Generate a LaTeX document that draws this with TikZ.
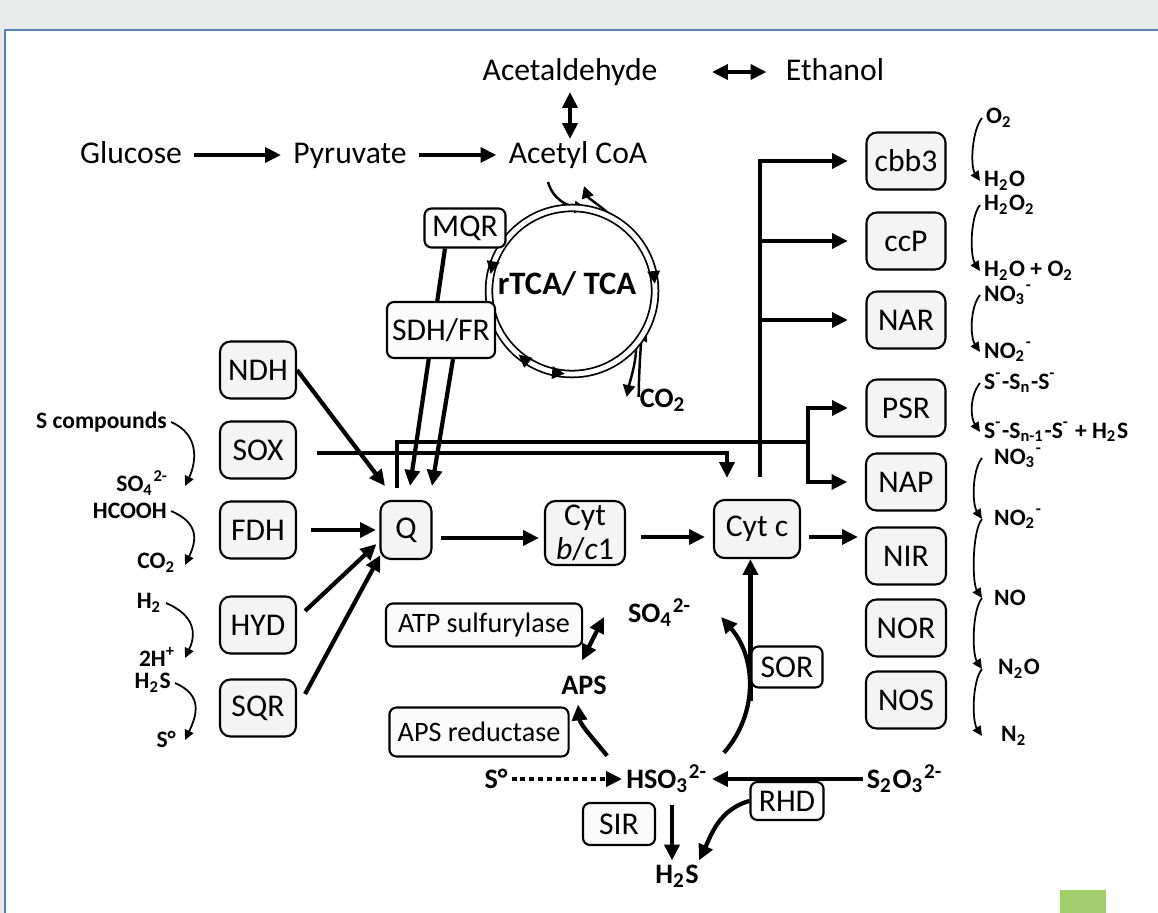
\documentclass[tikz,border=0pt]{standalone}
\usepackage{fontspec}
\setmainfont{Carlito}
\usetikzlibrary{arrows.meta,calc,positioning,decorations.markings}
\definecolor{pagegrey}{RGB}{233,235,234}
\definecolor{frameblue}{RGB}{84,130,181}
\definecolor{leafgreen}{RGB}{161,205,107}
\newcommand{\chsub}[1]{\textsubscript{#1}}
\newcommand{\chsup}[1]{\textsuperscript{#1}}
\pgfdeclarelayer{back}
\pgfdeclarelayer{links}
\pgfsetlayers{back,links,main}
\tikzset{
  pbox/.style={draw, line width=0.6pt, rounded corners=3pt, fill=gray!9,
    minimum width=0.76cm, minimum height=0.57cm, inner sep=1pt,
    font=\fontsize{9}{10.5}\selectfont},
  ebox/.style={draw, line width=0.6pt, rounded corners=2pt, fill=gray!3,
    inner sep=1pt, font=\fontsize{9}{10.5}\selectfont},
  flow/.style={line width=1.2pt, -{Triangle[length=4.5pt,width=4.2pt]}},
  bflow/.style={line width=1.2pt,
    {Triangle[length=4.5pt,width=4.2pt]}-{Triangle[length=4.5pt,width=4.2pt]}},
  bus/.style={line width=1.2pt},
  conv/.style={line width=0.5pt, -{Triangle[length=2.8pt,width=2.6pt]}},
  cyc/.style={line width=0.7pt, -{Triangle[length=3.4pt,width=3.4pt]}},
  big/.style={font=\fontsize{9}{10.5}\selectfont, text height=6.5pt, text depth=1.8pt},
  met/.style={font=\fontsize{8}{9.5}\selectfont\bfseries, inner sep=1pt},
  chem/.style={font=\fontsize{6.7}{8}\selectfont\bfseries, inner sep=1pt},
}
\begin{document}
\begin{tikzpicture}[x=0.01cm, y=-0.01cm]
  \useasboundingbox (0,0) rectangle (1158,913);
  % page and frame
  \begin{pgfonlayer}{back}
    \fill[pagegrey] (0,0) rectangle (1158,913);
    \fill[white] (5,30) rectangle (1158,913);
    \draw[frameblue, line width=0.5pt] (5,913) -- (5,30) -- (1158,30);
    \fill[leafgreen] (1060,890) rectangle (1106,913);
  \end{pgfonlayer}

  % glycolysis and fermentation
  \node[big] (glu) at (131,155) {Glucose};
  \node[big] (pyr) at (350,155) {Pyruvate};
  \node[big] (acoa) at (578,155) {Acetyl CoA};
  \node[big] (ald) at (570,72) {Acetaldehyde};
  \node[big] (eth) at (835,72) {Ethanol};

  % TCA cycle
  \node[draw, circle, line width=0.5pt, double, double distance=1.4pt,
    minimum size=1.66cm, inner sep=0pt] (tca) at (572,291) {};
  \path[decoration={markings,
      mark=at position 0.014 with {\arrowreversed{Triangle[length=3.6pt,width=3.6pt]}},
      mark=at position 0.639 with {\arrowreversed{Triangle[length=3.6pt,width=3.6pt]}},
      mark=at position 0.467 with {\arrow{Triangle[length=3.6pt,width=3.6pt]}},
      mark=at position 0.736 with {\arrow{Triangle[length=3.6pt,width=3.6pt]}}},
    decorate] (tca.center) circle[radius=0.83cm];
  \node[font=\fontsize{9.3}{11}\selectfont\bfseries] (tcalbl) at (567,284) {rTCA/ TCA};
  \node[met] (co2) at (663,400) {CO\chsub{2}};
  \node[ebox, minimum width=0.81cm, minimum height=0.39cm] (mqr) at (465,228) {MQR};
  \node[ebox, minimum width=1.08cm, minimum height=0.56cm] (sdh) at (441,330) {SDH/FR};

  % donors
  \node[pbox] (ndh) at (258,370) {NDH};
  \node[pbox] (sox) at (258,450) {SOX};
  \node[pbox] (fdh) at (258,530) {FDH};
  \node[pbox] (hyd) at (258,625) {HYD};
  \node[pbox] (sqr) at (258,708) {SQR};

  % chain
  \node[pbox, minimum width=0.51cm, minimum height=0.58cm] (q) at (406,530) {Q};
  \node[pbox, minimum width=0.80cm, minimum height=0.64cm, align=center] (cytb) at (585,533)
    {Cyt\\[-1pt]\textit{b}/\textit{c}1};
  \node[pbox, minimum width=0.86cm, minimum height=0.58cm] (cytc) at (757,529) {Cyt c};

  % terminal reductases
  \node[pbox, minimum width=0.79cm] (cbb3) at (906,161) {cbb3};
  \node[pbox, minimum width=0.79cm] (ccp) at (906,241) {ccP};
  \node[pbox, minimum width=0.79cm] (nar) at (906,320) {NAR};
  \node[pbox, minimum width=0.79cm] (psr) at (906,408) {PSR};
  \node[pbox, minimum width=0.80cm] (nap) at (906,482) {NAP};
  \node[pbox, minimum width=0.80cm] (nir) at (906,556) {NIR};
  \node[pbox, minimum width=0.80cm] (nor) at (906,628) {NOR};
  \node[pbox, minimum width=0.80cm] (nos) at (906,700) {NOS};

  % sulfur metabolism
  \node[ebox, font=\fontsize{8}{9.5}\selectfont, minimum width=1.96cm, minimum height=0.43cm] (atps) at (484,625) {ATP sulfurylase};
  \node[ebox, font=\fontsize{8}{9.5}\selectfont, minimum width=1.79cm, minimum height=0.49cm] (apsr) at (479,732) {APS reductase};
  \node[ebox, minimum width=0.71cm, minimum height=0.41cm] (sor) at (787,667) {SOR};
  \node[ebox, minimum width=0.73cm, minimum height=0.38cm] (rhd) at (787,801) {RHD};
  \node[ebox, minimum width=0.72cm, minimum height=0.42cm] (sir) at (619,824) {SIR};
  \node[met] (so4m) at (660,613) {SO\chsub{4}\chsup{2-}};
  \node[met] (aps) at (584,685) {APS};
  \node[met] (hso3) at (667,779) {HSO\chsub{3}\chsup{2-}};
  \node[met] (s0) at (496,779) {S°};
  \node[met] (s2o3) at (905,779) {S\chsub{2}O\chsub{3}\chsup{2-}};
  \node[met] (h2sb) at (677,876) {H\chsub{2}S};

  % substrates left
  \node[chem, anchor=east] (scomp) at (171,422) {S compounds};
  \node[chem, anchor=east] (so4a) at (173,483) {SO\chsub{4}\chsup{2-}};
  \node[chem, anchor=east] (hcooh) at (171,511) {HCOOH};
  \node[chem, anchor=east] (co2a) at (180,563) {CO\chsub{2}};
  \node[chem, anchor=east] (h2a) at (166,603) {H\chsub{2}};
  \node[chem, anchor=east] (h2p) at (180,657) {2H\chsup{+}};
  \node[chem, anchor=east] (h2sa) at (175,683) {H\chsub{2}S};
  \node[chem, anchor=east] (s0a) at (180,739) {S°};

  % acceptors right
  \node[chem, anchor=west] (o2) at (982,118) {O\chsub{2}};
  \node[chem, anchor=west] (h2o) at (980,181) {H\chsub{2}O};
  \node[chem, anchor=west] (h2o2) at (980,205) {H\chsub{2}O\chsub{2}};
  \node[chem, anchor=west] (h2oo2) at (980,271) {H\chsub{2}O + O\chsub{2}};
  \node[chem, anchor=west] (no3a) at (980,295) {NO\chsub{3}\chsup{-}};
  \node[chem, anchor=west] (no2a) at (980,352) {NO\chsub{2}\chsup{-}};
  \node[chem, anchor=west] (sn) at (980,383) {S\chsup{-}-S\chsub{n}-S\chsup{-}};
  \node[chem, anchor=west] (snm) at (980,432) {S\chsup{-}-S\chsub{n-1}-S\chsup{-} + H\chsub{2}S};
  \node[chem, anchor=west] (no3b) at (990,458) {NO\chsub{3}\chsup{-}};
  \node[chem, anchor=west] (no2b) at (990,519) {NO\chsub{2}\chsup{-}};
  \node[chem, anchor=west] (no) at (990,598) {NO};
  \node[chem, anchor=west] (n2o) at (994,669) {N\chsub{2}O};
  \node[chem, anchor=west] (n2) at (997,736) {N\chsub{2}};

  \begin{pgfonlayer}{links}
    % top pathway
    \draw[flow] (glu) -- (pyr);
    \draw[flow] (pyr) -- (acoa);
    \draw[bflow] ([shift={(0,-7)}]ald.south) -- ([shift={(0,11)}]ald.south |- acoa.north);
    \draw[bflow, shorten <=12pt, shorten >=2pt] (ald) -- (eth);
    % into and out of the cycle
    \draw[cyc] ([shift={(-30,0)}]acoa.south) .. controls +(5,18) and +(-18,-2) .. (tca.80);
    \draw[cyc] (tca.60) .. controls +(-10,-10) and +(4,12) .. ([shift={(6,4)}]acoa.south);
    \draw[cyc] (tca.-40) .. controls +(0,18) and +(3,-15) .. ([shift={(-9,-3)}]co2.west);
    \draw[cyc] ([shift={(3,-3)}]co2.west) .. controls +(0,-20) and +(-6,12) .. (tca.-27);
    % into Q
    \draw[flow] (ndh.east) -- ([shift={(-21,-14)}]q.north);
    \draw[flow] ([shift={(-20,0)}]mqr.south) -- ([shift={(4,-14)}]q.north);
    \draw[flow] ([shift={(12,0)}]sdh.south) -- ([shift={(26,-14)}]q.north);
    \draw[flow, shorten <=4pt, shorten >=1pt] (fdh) -- (q);
    \draw[flow] ([shift={(8,-14)}]hyd.east) -- ([shift={(-3,14)}]q.west);
    \draw[flow] ([shift={(8,-14)}]sqr.east) -- ([shift={(1,-5)}]q.south west);
    % chain
    \draw[flow] ([shift={(8,8)}]q.east) -- ([shift={(-5,5)}]cytb.west);
    \draw[flow] ([shift={(15,4)}]cytb.east) -- ([shift={(-8,8)}]cytc.west);
    \draw[flow] ([shift={(8,8)}]cytc.east) -- ([shift={(-7,-19)}]nir.west);
    \draw[flow] ([shift={(20,3)}]sox.east) -| ([shift={(-30,-21)}]cytc.north);
    % Q bus to PSR and NAP
    \coordinate (qbus) at (808,442);
    \draw[bus] ([shift={(-9,-12)}]q.north) |- (qbus);
    \draw[flow, shorten >=5pt] (qbus) |- (psr.west);
    \draw[flow, shorten >=5pt] (qbus) |- (nap.west);
    % Cyt c bus
    \coordinate (cbus) at ([shift={(3,-22)}]cytc.north);
    \draw[flow, shorten >=5pt] (cbus) |- (cbb3.west);
    \draw[flow, shorten >=5pt] (cbus) |- (ccp.west);
    \draw[flow, shorten >=5pt] (cbus) |- (nar.west);
    % sulfur
    \draw[bflow] ([shift={(-2,-11)}]aps.north) -- ([shift={(-20,4)}]so4m.west);
    \draw[flow] ([shift={(-15,-5)}]hso3.north west) .. controls +(-12,-15) and +(2,20) .. ([shift={(-6,6)}]aps.south);
    \draw[flow] ([shift={(12,-8)}]hso3.north east) .. controls +(35,-40) and +(35,40) .. ([shift={(25,4)}]so4m.east);
    \draw[flow] ([shift={(0,12)}]sor.south west) -- (sor.west |- cytc.south);
    \draw[flow, dash pattern=on 1.4pt off 1.1pt] (s0) -- (hso3);
    \draw[flow] (s2o3) -- (hso3);
    \draw[flow] (rhd.west) .. controls +(-30,8) and +(12,-25) .. ([shift={(-4,0)}]h2sb.north east);
    \draw[flow] ([shift={(5,8)}]hso3.south) -- ([shift={(-5,0)}]h2sb.north);
    % substrate conversions
    \draw[conv] (scomp.east) .. controls +(28,12) and +(12,-25) .. ([shift={(12,3)}]so4a.east);
    \draw[conv] (hcooh.east) .. controls +(28,12) and +(12,-25) .. ([shift={(5,2)}]co2a.east);
    \draw[conv] (h2a.east) .. controls +(28,12) and +(12,-25) .. ([shift={(5,1)}]h2p.east);
    \draw[conv] (h2sa.east) .. controls +(28,12) and +(12,-25) .. ([shift={(5,1)}]s0a.east);
    % acceptor conversions
    \draw[conv] (o2.west) .. controls +(-10,12) and +(-10,-15) .. (h2o.west);
    \draw[conv] (h2o2.west) .. controls +(-10,12) and +(-10,-15) .. (h2oo2.west);
    \draw[conv] (no3a.west) .. controls +(-10,12) and +(-10,-15) .. (no2a.west);
    \draw[conv] (sn.west) .. controls +(-10,12) and +(-10,-15) .. (snm.west);
    \draw[conv] ([shift={(-8,0)}]no3b.west) .. controls +(-10,12) and +(-10,-15) .. ([shift={(-8,0)}]no2b.west);
    \draw[conv] ([shift={(-8,0)}]no2b.west) .. controls +(-10,12) and +(-10,-15) .. ([shift={(-8,0)}]no.west);
    \draw[conv] ([shift={(-8,0)}]no.west) .. controls +(-10,12) and +(-10,-15) .. ([shift={(-12,0)}]n2o.west);
    \draw[conv] ([shift={(-12,0)}]n2o.west) .. controls +(-10,12) and +(-10,-15) .. ([shift={(-15,0)}]n2.west);
  \end{pgfonlayer}
\end{tikzpicture}
\end{document}
